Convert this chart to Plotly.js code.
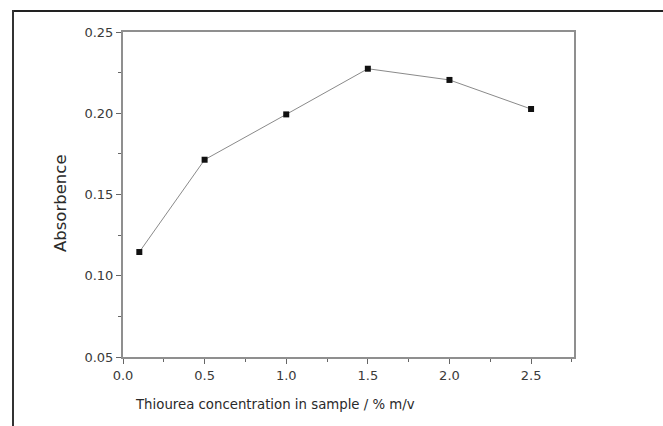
<!DOCTYPE html>
<html>
<head>
<meta charset="utf-8">
<script src="https://cdn.plot.ly/plotly-3.0.1.min.js"></script>
<style>html,body{margin:0;padding:0;background:#fff;}#chart{width:663px;height:426px;}</style>
</head>
<body>
<div id="chart"></div>
<script>
const concentration = [0.1, 0.5, 1.0, 1.5, 2.0, 2.5];
const absorbance = [0.1146, 0.1714, 0.1993, 0.2274, 0.2205, 0.2026];
const xTitle = "Thiourea concentration in sample / % m/v";
const yTitle = "Absorbence";

const W = 663, H = 426;
const L = 123, R = 89, T = 32, B = 69;
const pw = W - L - R, ph = H - T - B;
const px = x => (x - L) / pw;
const py = y => (H - B - y) / ph;

const trace = {
  x: concentration, y: absorbance, type: 'scatter', mode: 'lines+markers',
  line: {color: '#8a8a8a', width: 1},
  marker: {symbol: 'square', size: 6, color: '#111'},
  showlegend: false, hoverinfo: 'none'
};

const axisCommon = {
  showline: true, linecolor: '#8f8f8f', linewidth: 2, mirror: true,
  ticks: 'outside', ticklen: 5, tickwidth: 1, tickcolor: '#666',
  showgrid: false, zeroline: false,
  tickfont: {family: 'DejaVu Sans, Arial, sans-serif', size: 13, color: '#3a3a3a'}
};

const layout = {
  width: W, height: H,
  margin: {l: L, r: R, t: T, b: B},
  paper_bgcolor: '#fff', plot_bgcolor: '#fff',
  xaxis: Object.assign({}, axisCommon, {
    range: [0, 2.763], dtick: 0.5, tick0: 0, tickformat: '.1f',
    minor: {dtick: 0.25, tick0: 0, ticklen: 3, ticks: 'outside', tickcolor: '#666', showgrid: false}
  }),
  yaxis: Object.assign({}, axisCommon, {
    range: [0.05, 0.25], dtick: 0.05, tick0: 0.05, tickformat: '.2f',
    minor: {dtick: 0.025, tick0: 0.05, ticklen: 3, ticks: 'outside', tickcolor: '#666', showgrid: false}
  }),
  annotations: [
    {text: xTitle, xref: 'paper', yref: 'paper', x: px(275), y: py(404), showarrow: false,
     xanchor: 'center', yanchor: 'middle',
     font: {family: 'DejaVu Sans, Arial, sans-serif', size: 13.3, color: '#2a2a2a'}},
    {text: yTitle, xref: 'paper', yref: 'paper', x: px(60), y: py(203), showarrow: false,
     xanchor: 'center', yanchor: 'middle', textangle: -90,
     font: {family: 'DejaVu Sans, Arial, sans-serif', size: 16.5, color: '#2a2a2a'}}
  ],
  shapes: [
    {type: 'line', xref: 'paper', yref: 'paper', x0: px(12), x1: px(663), y0: py(11), y1: py(11),
     line: {color: '#222', width: 2}},
    {type: 'line', xref: 'paper', yref: 'paper', x0: px(13), x1: px(13), y0: py(10), y1: py(426),
     line: {color: '#333', width: 2}}
  ]
};

Plotly.newPlot('chart', [trace], layout, {staticPlot: true, displayModeBar: false});
</script>
</body>
</html>
